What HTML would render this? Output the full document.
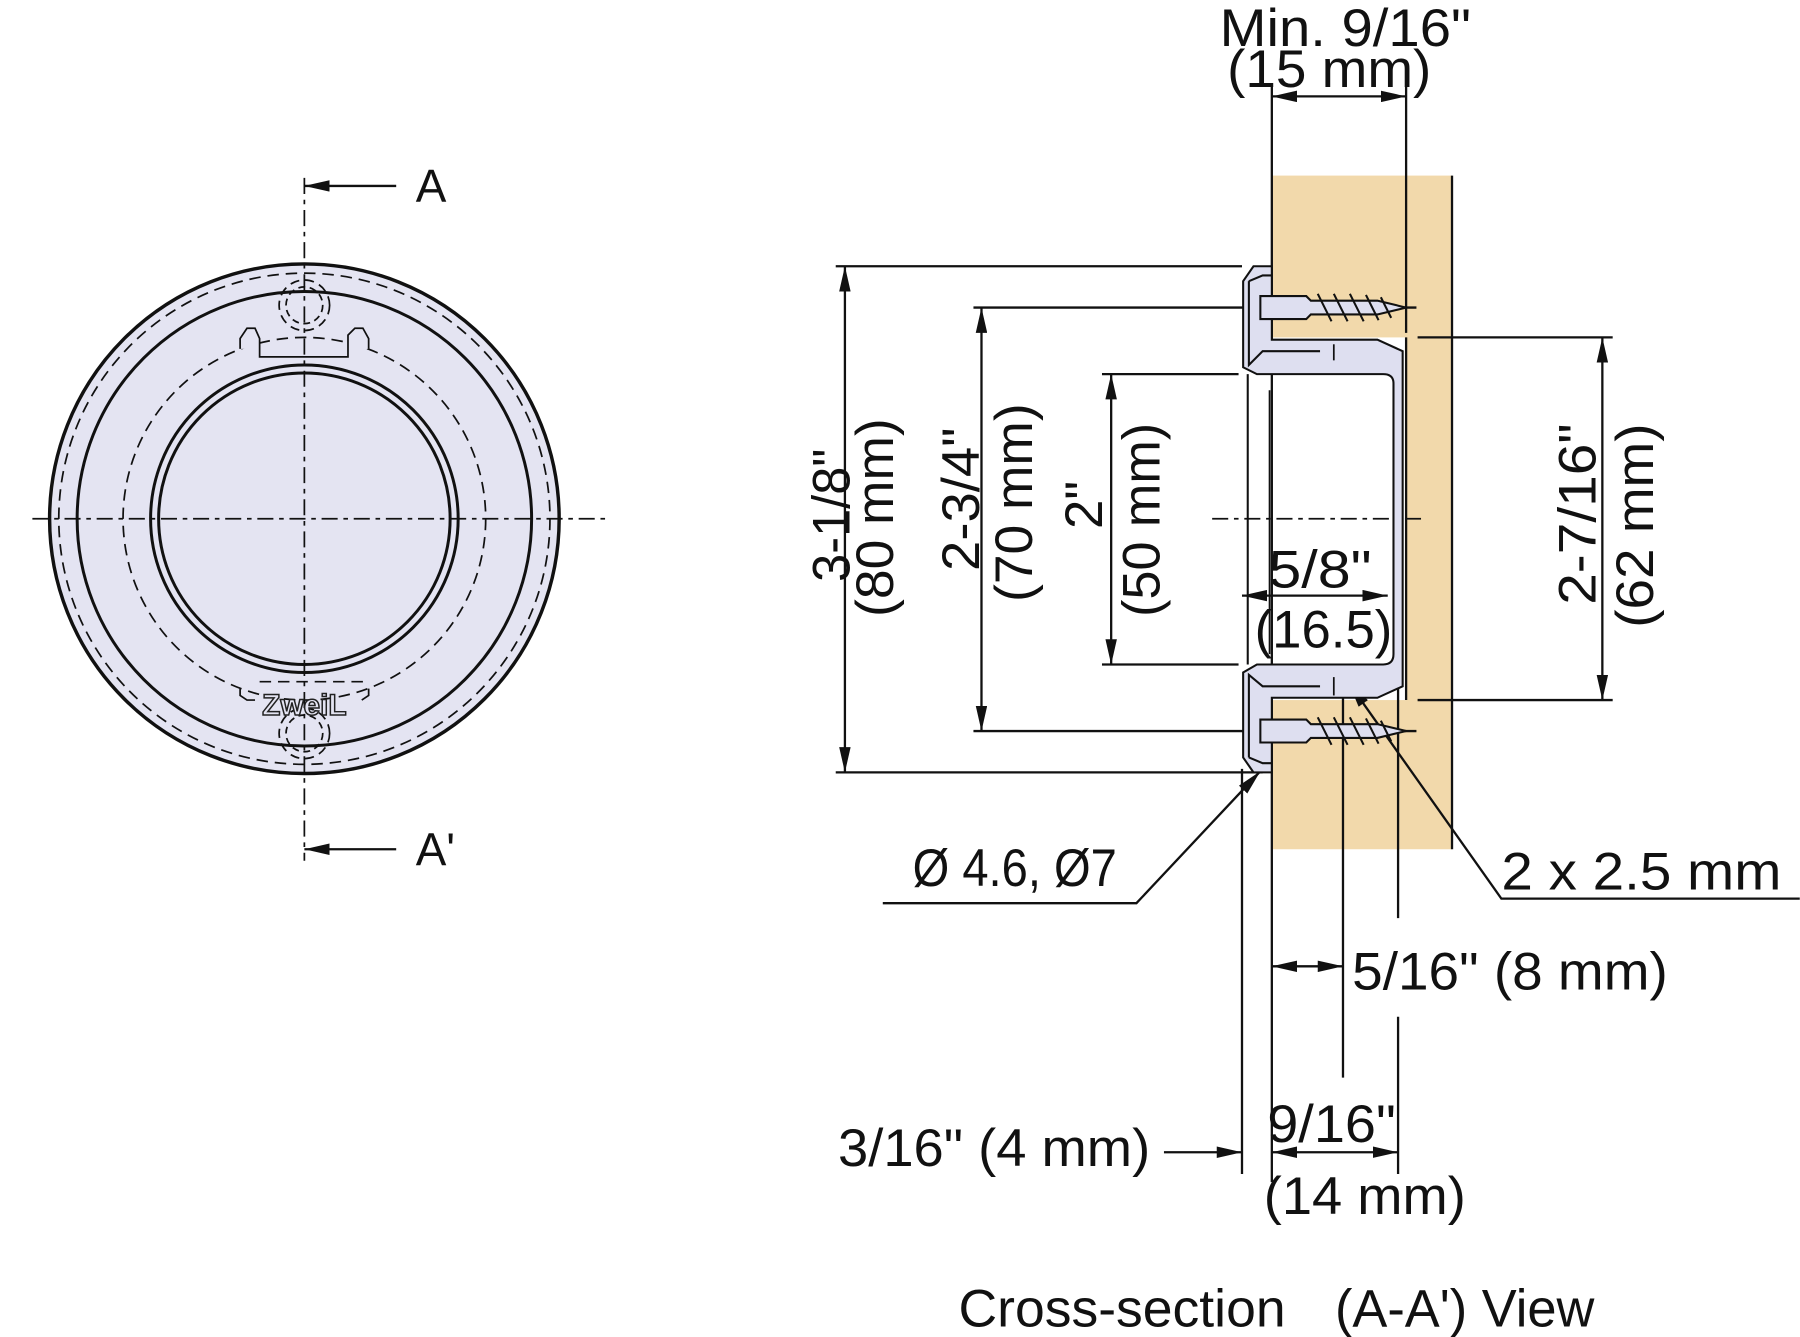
<!DOCTYPE html>
<html><head><meta charset="utf-8"><style>
html,body{margin:0;padding:0;background:#fff;}
svg{display:block;}
text{font-family:"Liberation Sans",Arial,sans-serif;fill:#111;}
</style></head><body>
<svg width="1800" height="1337" viewBox="0 0 1568 1165" xmlns="http://www.w3.org/2000/svg">
<defs>
<marker id="ar" viewBox="0 0 22 10" refX="22" refY="5" markerWidth="22" markerHeight="10" markerUnits="userSpaceOnUse" orient="auto-start-reverse">
<path d="M0,0 L22,5 L0,10 z" fill="#111"/></marker>
</defs>

<!-- LEFT VIEW -->
<g stroke="#111" fill="none">
<circle cx="265" cy="452" r="222" fill="#e4e4f2" stroke-width="3"/>
<circle cx="265" cy="452" r="214" stroke-width="1.5" stroke-dasharray="10,6"/>
<circle cx="265" cy="452" r="198" stroke-width="2.6"/>
<circle cx="265" cy="452" r="158" stroke-width="1.5" stroke-dasharray="10,6"/>
<circle cx="265" cy="452" r="134" stroke-width="2.6"/>
<circle cx="265" cy="452" r="127" stroke-width="2.6"/>
<circle cx="265" cy="266" r="16" stroke-width="1.5" stroke-dasharray="6,4"/>
<circle cx="265" cy="266" r="22" stroke-width="1.5" stroke-dasharray="8,5"/>
<circle cx="265" cy="639" r="16" stroke-width="1.5" stroke-dasharray="6,4"/>
<circle cx="265" cy="639" r="22" stroke-width="1.5" stroke-dasharray="8,5"/>
<path d="M209,304 L209,295 L215,286 L222,286 L226,295 L226,311 L303,311 L303,292 L309,286 L316,286 L321,295 L321,304" stroke-width="1.5" fill="#e4e4f2"/>
<path d="M209,600 L209,606 L215,610 L222,610 M321,600 L321,606 L315,610" stroke-width="1.5"/>
<line x1="226" y1="594" x2="321" y2="594" stroke-width="1.5" stroke-dasharray="10,6"/>
<line x1="265" y1="155" x2="265" y2="750" stroke-width="1.5" stroke-dasharray="14,5,4,5"/>
<line x1="28" y1="452" x2="530" y2="452" stroke-width="1.5" stroke-dasharray="14,5,4,5"/>
<line x1="345" y1="162" x2="265" y2="162" stroke-width="2" marker-end="url(#ar)"/>
<line x1="345" y1="740" x2="265" y2="740" stroke-width="2" marker-end="url(#ar)"/>
</g>
<text x="265" y="623" text-anchor="middle" font-size="26" font-weight="bold" style="fill:#e4e4f2;stroke:#222;stroke-width:1.3">ZweiL</text>
<text x="362" y="176" font-size="40">A</text>
<text x="362" y="754" font-size="40">A'</text>

<!-- CROSS SECTION -->
<rect x="1108" y="153" width="157" height="587" fill="#f2d9ab"/>
<rect x="1108" y="294" width="117" height="316" fill="#fff"/>
<g stroke="#111" fill="none" stroke-width="2">
<line x1="1265" y1="153" x2="1265" y2="740"/>
<line x1="1108" y1="75" x2="1108" y2="1030"/>
<line x1="1225" y1="75" x2="1225" y2="290"/>
<line x1="1082" y1="670" x2="1082" y2="1023"/>
<line x1="1170" y1="600" x2="1170" y2="939"/>
<line x1="1218" y1="600" x2="1218" y2="800"/>
<line x1="1218" y1="886" x2="1218" y2="1023"/>
<line x1="1225" y1="294" x2="1225" y2="610"/>
<line x1="728" y1="232" x2="1082" y2="232"/>
<line x1="728" y1="673" x2="1100" y2="673"/>
<line x1="848" y1="268" x2="1234" y2="268"/>
<line x1="848" y1="637" x2="1234" y2="637"/>
<line x1="960" y1="326" x2="1079" y2="326"/>
<line x1="960" y1="579" x2="1079" y2="579"/>
<line x1="1235" y1="294" x2="1405" y2="294"/>
<line x1="1235" y1="610" x2="1405" y2="610"/>
<line x1="1056" y1="452" x2="1243" y2="452" stroke-dasharray="14,5,4,5" stroke-width="1.5"/>
<line x1="1108" y1="84" x2="1225" y2="84" marker-start="url(#ar)" marker-end="url(#ar)"/>
<line x1="736" y1="232" x2="736" y2="673" marker-start="url(#ar)" marker-end="url(#ar)"/>
<line x1="855" y1="268" x2="855" y2="637" marker-start="url(#ar)" marker-end="url(#ar)"/>
<line x1="968" y1="326" x2="968" y2="579" marker-start="url(#ar)" marker-end="url(#ar)"/>
<line x1="1396" y1="294" x2="1396" y2="610" marker-start="url(#ar)" marker-end="url(#ar)"/>
<line x1="1082" y1="519" x2="1209" y2="519" marker-start="url(#ar)" marker-end="url(#ar)"/>
<line x1="1108" y1="842" x2="1170" y2="842" marker-start="url(#ar)" marker-end="url(#ar)"/>
<line x1="1108" y1="1004" x2="1218" y2="1004" marker-start="url(#ar)" marker-end="url(#ar)"/>
<line x1="1014" y1="1004" x2="1082" y2="1004" marker-end="url(#ar)"/>
<polyline points="769,787 990,787 1098,672" marker-end="url(#ar)"/>
<polyline points="1568,783 1308,783 1175,595" marker-end="url(#ar)"/>
</g>

<!-- fitting -->
<g stroke="#111" stroke-width="1.8" fill="#dedff0">
<path d="M1092,232 L1108,232 L1108,296 L1200,296 L1222,306 L1222,598 L1200,608 L1108,608 L1108,673 L1092,673 L1083,660 L1083,586 L1095,579 L1205,579 Q1214,579 1214,570 L1214,334 Q1214,326 1205,326 L1095,326 L1083,320 L1083,245 Z"/>
<path d="M1088,245 L1100,240 L1108,240 M1088,245 L1088,318 L1100,306 L1150,306" fill="none"/>
<path d="M1088,660 L1100,665 L1108,665 M1088,660 L1088,588 L1100,598 L1150,598" fill="none"/>
<line x1="1087" y1="326" x2="1087" y2="579"/>
<line x1="1106" y1="340" x2="1106" y2="570" stroke-width="1.5"/>
<path d="M1098,258 L1138,258 L1142,262 L1200,262 L1225,268 L1200,274 L1142,274 L1138,278 L1098,278 Z"/>
<path d="M1098,627 L1138,627 L1142,631 L1200,631 L1225,637 L1200,643 L1142,643 L1138,647 L1098,647 Z"/>
<path d="M1148,256 L1160,280 M1162,256 L1174,280 M1176,256 L1188,280 M1190,257 L1201,279 M1203,259 L1212,277 M1148,625 L1160,649 M1162,625 L1174,649 M1176,625 L1188,649 M1190,626 L1201,648 M1203,628 L1212,646" fill="none"/>
<line x1="1162" y1="300" x2="1162" y2="314" stroke-width="1.5"/>
<line x1="1162" y1="590" x2="1162" y2="606" stroke-width="1.5"/>
</g>

<g font-size="46">
<text x="1172" y="40" text-anchor="middle" textLength="219" lengthAdjust="spacingAndGlyphs">Min. 9/16"</text>
<text x="1158" y="76" text-anchor="middle" textLength="178" lengthAdjust="spacingAndGlyphs">(15 mm)</text>
<text transform="translate(740,449) rotate(-90)" text-anchor="middle" textLength="116" lengthAdjust="spacingAndGlyphs">3-1/8"</text>
<text transform="translate(778,451) rotate(-90)" text-anchor="middle" textLength="173" lengthAdjust="spacingAndGlyphs">(80 mm)</text>
<text transform="translate(853,435) rotate(-90)" text-anchor="middle" textLength="125" lengthAdjust="spacingAndGlyphs">2-3/4"</text>
<text transform="translate(899,438) rotate(-90)" text-anchor="middle" textLength="173" lengthAdjust="spacingAndGlyphs">(70 mm)</text>
<text transform="translate(960,440) rotate(-90)" text-anchor="middle">2"</text>
<text transform="translate(1010,453) rotate(-90)" text-anchor="middle" textLength="169" lengthAdjust="spacingAndGlyphs">(50 mm)</text>
<text transform="translate(1390,448) rotate(-90)" text-anchor="middle" textLength="158" lengthAdjust="spacingAndGlyphs">2-7/16"</text>
<text transform="translate(1440,458) rotate(-90)" text-anchor="middle" textLength="178" lengthAdjust="spacingAndGlyphs">(62 mm)</text>
<text x="1150" y="512" text-anchor="middle" textLength="90" lengthAdjust="spacingAndGlyphs">5/8"</text>
<text x="1153" y="564" text-anchor="middle" textLength="120" lengthAdjust="spacingAndGlyphs">(16.5)</text>
<text x="795" y="772" textLength="178" lengthAdjust="spacingAndGlyphs">Ø 4.6, Ø7</text>
<text x="1308" y="775" textLength="244" lengthAdjust="spacingAndGlyphs">2 x 2.5 mm</text>
<text x="1178" y="862" textLength="275" lengthAdjust="spacingAndGlyphs">5/16" (8 mm)</text>
<text x="730" y="1016" textLength="272" lengthAdjust="spacingAndGlyphs">3/16" (4 mm)</text>
<text x="1160" y="995" text-anchor="middle" textLength="112" lengthAdjust="spacingAndGlyphs">9/16"</text>
<text x="1189" y="1058" text-anchor="middle" textLength="176" lengthAdjust="spacingAndGlyphs">(14 mm)</text>
<text x="835" y="1156" textLength="285" lengthAdjust="spacingAndGlyphs">Cross-section</text>
<text x="1163" y="1156" textLength="226" lengthAdjust="spacingAndGlyphs">(A-A') View</text>
</g>
</svg>
</body></html>
